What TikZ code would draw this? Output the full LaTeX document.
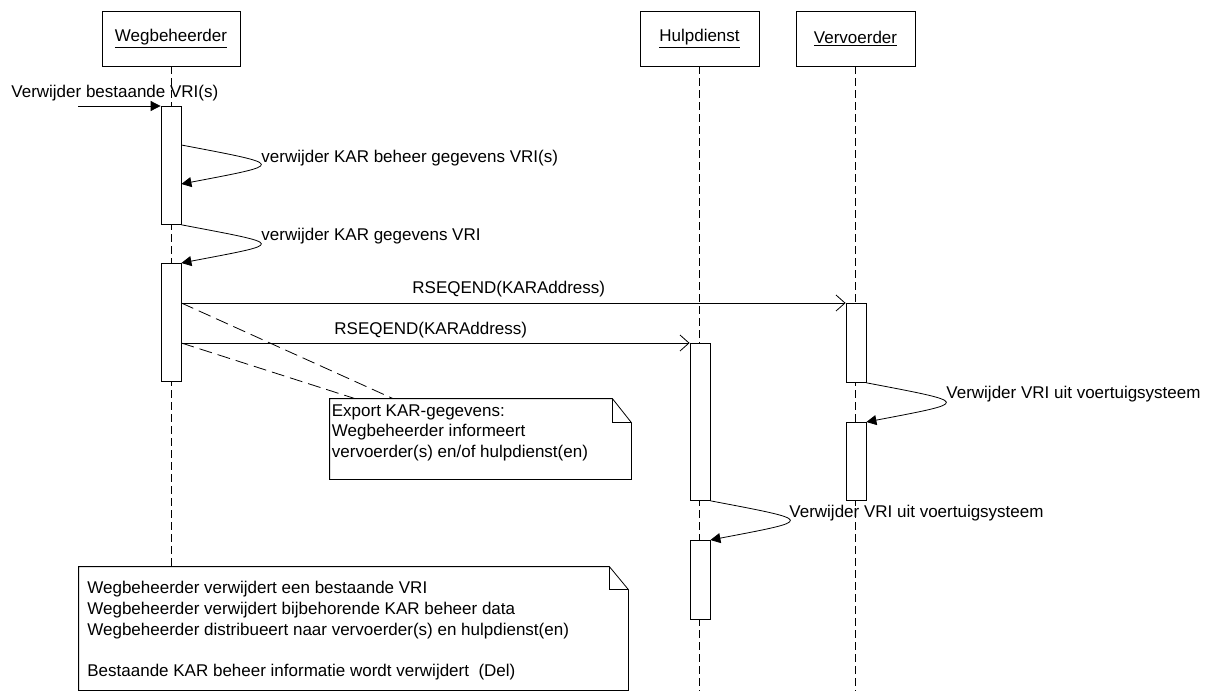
\documentclass[tikz,border=0pt]{standalone}
\usepackage{fontspec}
\setmainfont{Liberation Sans}
\usetikzlibrary{positioning,arrows.meta,calc}

\tikzset{
  object/.style={draw,minimum height=55pt,inner sep=0pt},
  activation/.style={draw,fill=white,minimum width=20pt,inner sep=0pt,anchor=north},
  lifeline/.style={dash pattern=on 8pt off 4pt},
  notelink/.style={dash pattern=on 13pt off 6pt},
  call/.style={-{Straight Barb[length=9pt,width=16pt]}},
  selfcall/.style={-{Triangle[length=10pt,width=10pt]}},
  msg/.style={anchor=base west,inner sep=0pt},
  notetext/.style={anchor=north west,align=left,inner sep=0pt}
}

\begin{document}
\begin{tikzpicture}[x=1pt,y=-1pt,line width=0.8pt,font=\fontsize{17}{20.8}\selectfont]

  \useasboundingbox (0,0) rectangle (1220,691);
  \coordinate (bottom) at (0,691);

  % objects
  \node[object,minimum width=138pt] (wb) at (171,38.4) {\underline{Wegbeheerder}};
  \node[object,minimum width=119pt] (hd) at (699.5,38.4) {\underline{Hulpdienst}};
  \node[object,minimum width=119pt] (vv) at (855.5,38.4) {\underline{Vervoerder}};

  % notes
  \node[minimum width=301pt,minimum height=80pt,inner sep=0pt] (note1) at (480.5,439) {};
  \node[minimum width=549pt,minimum height=123pt,inner sep=0pt] (note2) at (353.5,628.5) {};
  \foreach \n/\fx/\fy in {note1/19/24,note2/19/23} {
    \draw ($(\n.north east)+(-\fx,0)$) -- (\n.north west) -- (\n.south west)
      -- (\n.south east) -- ($(\n.north east)+(0,\fy)$) -- cycle;
    \draw ($(\n.north east)+(-\fx,0)$) -- ($(\n.north east)+(-\fx,\fy)$)
      -- ($(\n.north east)+(0,\fy)$);
  }
  \node[notetext] at (331.5,404) {Export KAR-gegevens:\\Wegbeheerder informeert\\vervoerder(s) en/of hulpdienst(en)};
  \node[notetext] at (87,581) {Wegbeheerder verwijdert een bestaande VRI\\Wegbeheerder verwijdert bijbehorende KAR beheer data\\Wegbeheerder distribueert naar vervoerder(s) en hulpdienst(en)\\[20.8pt]Bestaande KAR beheer informatie wordt verwijdert~ (Del)};

  % lifelines
  \draw[lifeline] (wb.south) -- (wb.south |- note2.north);
  \draw[lifeline] (hd.south) -- (hd.south |- bottom);
  \draw[lifeline] (vv.south) -- (vv.south |- bottom);

  % activations
  \node[activation,minimum height=118pt] (w1) at (171,106) {};
  \node[activation,minimum height=118pt] (w2) at (171,263) {};
  \node[activation,minimum height=79pt] (v1) at (856,303) {};
  \node[activation,minimum height=78pt] (v2) at (856,422) {};
  \node[activation,minimum height=157pt] (h1) at (700,343) {};
  \node[activation,minimum height=79pt] (h2) at (700,540) {};

  % incoming call
  \coordinate (in) at (78,106);
  \draw[selfcall] (in) -- (w1.north west);
  \node[msg] at (11,97) {Verwijder bestaande VRI(s)};

  % self calls
  \draw[selfcall] ($(w1.north east)+(0,39)$) .. controls +(105,20) and +(105,-20) .. ($(w1.north east)+(0,78)$);
  \node[msg] at (261,162) {verwijder KAR beheer gegevens VRI(s)};
  \draw[selfcall] (w1.south east) .. controls +(105,20) and +(105,-20) .. (w2.north east);
  \node[msg] at (261,240) {verwijder KAR gegevens VRI};
  \draw[selfcall] (v1.south east) .. controls +(105,20) and +(105,-20) .. (v2.north east);
  \node[msg] at (946,398.5) {Verwijder VRI uit voertuigsysteem};
  \draw[selfcall] (h1.south east) .. controls +(105,20) and +(105,-20) .. (h2.north east);
  \node[msg] at (789,517) {Verwijder VRI uit voertuigsysteem};

  % messages
  \draw[call] (w2.north east |- v1.north west) -- (v1.north west);
  \node[msg] at (412,293.5) {RSEQEND(KARAddress)};
  \draw[call] (w2.north east |- h1.north west) -- (h1.north west);
  \node[msg] at (334,334) {RSEQEND(KARAddress)};

  % note links
  \draw[notelink] (w2.north east |- v1.north west) -- (note1.north west -| 393,0);
  \draw[notelink] (w2.north east |- h1.north west) -- (note1.north west -| 355,0);

\end{tikzpicture}
\end{document}
